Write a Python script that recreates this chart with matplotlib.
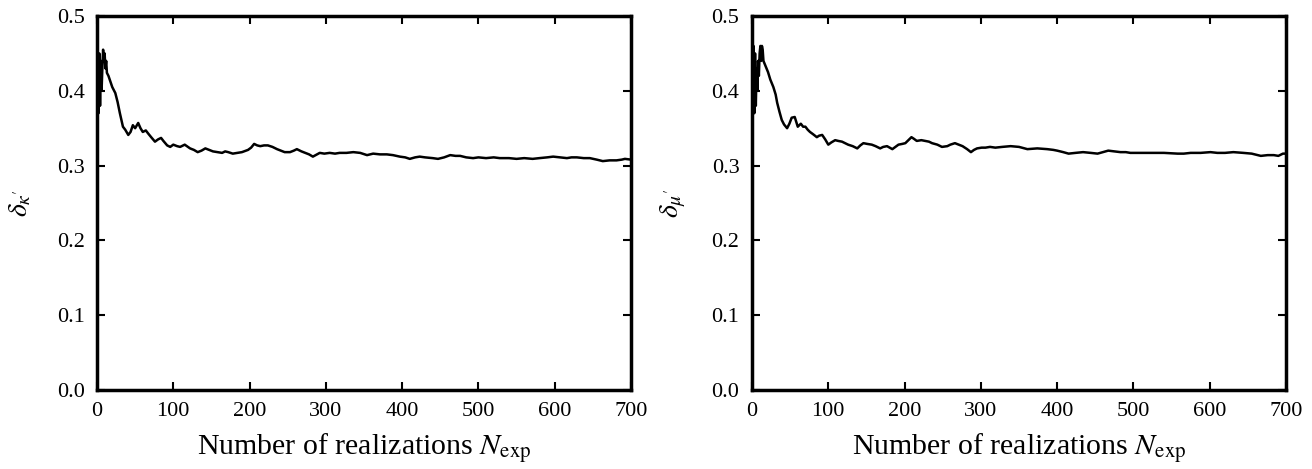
import matplotlib.pyplot as plt

plt.rcParams['font.family'] = 'Liberation Serif'
plt.rcParams['mathtext.fontset'] = 'stix'

# left panel: delta_kappa' vs number of realizations
n_kappa = [1, 2, 3, 4, 5, 6, 7, 8, 9, 10, 11, 12, 13, 15, 17, 20, 24, 27, 30, 34, 37, 41,
           44, 47, 50, 54, 57, 60, 64, 67, 71, 76, 80, 84, 87, 92, 96, 100, 105, 109, 115,
           122, 127, 132, 137, 142, 147, 152, 158, 164, 168, 172, 178, 184, 190, 198, 202,
           206, 210, 214, 219, 224, 230, 236, 241, 246, 253, 258, 262, 268, 273, 278, 283,
           292, 298, 305, 312, 318, 327, 336, 345, 354, 362, 371, 380, 388, 397, 404, 410,
           417, 423, 430, 440, 447, 455, 463, 470, 476, 484, 493, 500, 510, 520, 528, 540,
           550, 560, 571, 580, 590, 598, 607, 616, 622, 629, 638, 646, 655, 663, 672, 681,
           688, 692, 700]
delta_kappa = [0.42, 0.37, 0.45, 0.38, 0.44, 0.40, 0.43, 0.455, 0.44, 0.45, 0.43, 0.44,
               0.424, 0.42, 0.414, 0.405, 0.397, 0.385, 0.370, 0.352, 0.348, 0.341, 0.345,
               0.354, 0.350, 0.357, 0.350, 0.345, 0.347, 0.343, 0.338, 0.332, 0.335, 0.337,
               0.333, 0.327, 0.325, 0.328, 0.326, 0.325, 0.328, 0.323, 0.321, 0.318, 0.320,
               0.323, 0.321, 0.319, 0.318, 0.317, 0.319, 0.318, 0.316, 0.317, 0.318, 0.321,
               0.324, 0.329, 0.327, 0.326, 0.327, 0.327, 0.325, 0.322, 0.320, 0.318, 0.318,
               0.320, 0.322, 0.319, 0.317, 0.315, 0.312, 0.317, 0.316, 0.317, 0.316, 0.317,
               0.317, 0.318, 0.317, 0.314, 0.316, 0.315, 0.315, 0.314, 0.312, 0.311, 0.309,
               0.311, 0.312, 0.311, 0.310, 0.309, 0.311, 0.314, 0.313, 0.313, 0.311, 0.310,
               0.311, 0.310, 0.311, 0.310, 0.310, 0.309, 0.310, 0.309, 0.310, 0.311, 0.312,
               0.311, 0.310, 0.311, 0.311, 0.310, 0.310, 0.308, 0.306, 0.307, 0.307, 0.308,
               0.309, 0.308]

# right panel: delta_mu' vs number of realizations
n_mu = [1, 2, 3, 4, 5, 6, 7, 8, 9, 10, 11, 12, 13, 14, 15, 17, 19, 21, 24, 28, 31, 33,
        36, 39, 42, 46, 49, 52, 56, 60, 64, 67, 70, 73, 76, 80, 85, 88, 92, 96, 100, 104,
        109, 113, 118, 122, 126, 132, 138, 142, 146, 151, 157, 162, 168, 172, 177, 184,
        188, 192, 197, 201, 205, 209, 212, 216, 222, 227, 232, 236, 243, 249, 256, 260,
        266, 271, 276, 282, 287, 291, 295, 301, 306, 312, 319, 328, 339, 350, 361, 374,
        387, 395, 400, 408, 415, 424, 434, 444, 453, 460, 467, 475, 483, 490, 496, 508,
        522, 540, 558, 566, 575, 588, 601, 610, 620, 631, 644, 655, 667, 676, 684, 690,
        696, 700]
delta_mu = [0.40, 0.46, 0.37, 0.45, 0.38, 0.43, 0.40, 0.44, 0.42, 0.45, 0.46, 0.44,
            0.46, 0.455, 0.44, 0.435, 0.43, 0.425, 0.415, 0.405, 0.395, 0.384, 0.372,
            0.361, 0.355, 0.350, 0.356, 0.364, 0.365, 0.352, 0.356, 0.352, 0.352, 0.348,
            0.345, 0.342, 0.338, 0.340, 0.341, 0.335, 0.328, 0.331, 0.334, 0.333, 0.332,
            0.330, 0.328, 0.326, 0.323, 0.327, 0.330, 0.329, 0.328, 0.326, 0.323, 0.325,
            0.326, 0.322, 0.325, 0.328, 0.329, 0.330, 0.334, 0.338, 0.336, 0.333, 0.334,
            0.333, 0.332, 0.330, 0.328, 0.325, 0.326, 0.328, 0.330, 0.328, 0.326, 0.322,
            0.318, 0.321, 0.323, 0.324, 0.324, 0.325, 0.324, 0.325, 0.326, 0.325, 0.322,
            0.323, 0.322, 0.321, 0.320, 0.318, 0.316, 0.317, 0.318, 0.317, 0.316, 0.318,
            0.320, 0.319, 0.318, 0.318, 0.317, 0.317, 0.317, 0.317, 0.316, 0.316, 0.317,
            0.317, 0.318, 0.317, 0.317, 0.318, 0.317, 0.316, 0.313, 0.314, 0.314, 0.313,
            0.316, 0.316]

panels = [
    (n_kappa, delta_kappa, r"$\delta_{\kappa'}$", 97),
    (n_mu, delta_mu, r"$\delta_{\mu'}$", 752),
]

fig = plt.figure(figsize=(13.12, 4.69), dpi=100)
W, H = 1312, 469

for nvals, dvals, ylab, x0 in panels:
    ax = fig.add_axes([x0 / W, 1 - 390 / H, 534 / W, (390 - 16) / H])
    ax.plot(nvals, dvals, color='black', lw=1.8)
    ax.set_xlim(0, 700)
    ax.set_ylim(0, 0.5)
    ax.set_xticks(range(0, 701, 100))
    ax.set_yticks([0.0, 0.1, 0.2, 0.3, 0.4, 0.5])
    ax.set_yticklabels(['0.0', '0.1', '0.2', '0.3', '0.4', '0.5'])
    ax.tick_params(direction='in', length=6, width=1.5, labelsize=16,
                   top=True, right=True)
    ax.tick_params(axis='x', pad=9)
    ax.tick_params(axis='y', pad=9)
    for s in ax.spines.values():
        s.set_linewidth(2.5)
    ax.set_xlabel(r"Number of realizations $N_{\mathrm{exp}}$", fontsize=21.5, labelpad=7)
    ax.set_ylabel(ylab, fontsize=20, labelpad=17)

fig.savefig('out.png', dpi=100)
